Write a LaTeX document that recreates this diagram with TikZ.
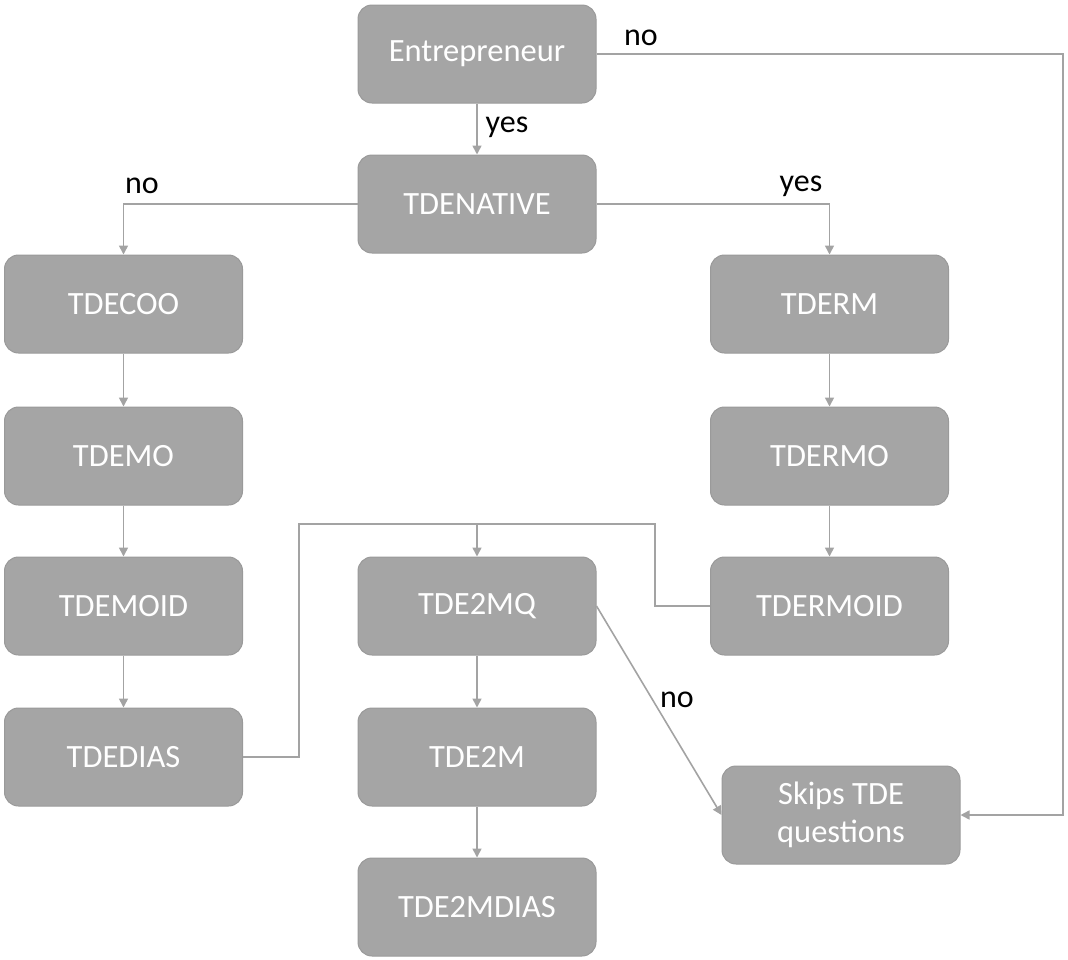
\documentclass[tikz,border=0pt]{standalone}
\usepackage{fontspec}
\setmainfont{Carlito}
\usetikzlibrary{arrows.meta}
\definecolor{boxfill}{HTML}{A5A5A5}
\definecolor{boxline}{HTML}{9A9A9A}
\definecolor{wire}{HTML}{A3A3A3}
\tikzset{
  stepbox/.style={draw=boxline, line width=1pt, fill=boxfill, rounded corners=14pt,
    minimum width=238pt, minimum height=98pt, text=white, align=center,
    font=\fontsize{32.5}{38}\selectfont, inner sep=0pt},
  wirepath/.style={draw=wire, line width=1.6pt},
  flow/.style={wirepath, -{Triangle[length=9pt,width=9pt]}},
  tag/.style={font=\fontsize{32}{36}\selectfont, text=black, inner sep=0pt}
}
\begin{document}
\begin{tikzpicture}[x=1pt, y=-1pt]
\useasboundingbox (0,0) rectangle (1068,959);

% decision boxes
\node[stepbox] (ent) at (477,54) {Entrepreneur};
\node[stepbox] (nat) at (477,204) {TDENATIVE};
\node[stepbox] (coo) at (123.5,304) {TDECOO};
\node[stepbox] (mo) at (123.5,456) {TDEMO};
\node[stepbox] (moid) at (123.5,606) {TDEMOID};
\node[stepbox] (dias) at (123.5,757) {TDEDIAS};
\node[stepbox] (rm) at (829.5,304) {TDERM};
\node[stepbox] (rmo) at (829.5,456) {TDERMO};
\node[stepbox] (rmoid) at (829.5,606) {TDERMOID};
\node[stepbox] (mq) at (477,606) {TDE2MQ};
\node[stepbox] (m) at (477,757) {TDE2M};
\node[stepbox] (mdias) at (477,907) {TDE2MDIAS};
\node[stepbox] (skip) at (841,815) {Skips TDE\\questions};

% routing points
\coordinate (farright) at (1063,54);
\coordinate (merge) at (477,524);

% connectors
\draw[flow] (ent.east) -- (farright) |- (skip.east);
\draw[flow] (ent) -- (nat);
\draw[flow] (nat.west) -| (coo.north);
\draw[flow] (nat.east) -| (rm.north);
\draw[flow] (coo) -- (mo);
\draw[flow] (mo) -- (moid);
\draw[flow] (moid) -- (dias);
\draw[flow] (rm) -- (rmo);
\draw[flow] (rmo) -- (rmoid);
\draw[wirepath] (dias.east) -- (299,757) |- (merge);
\draw[wirepath] (rmoid.west) -- (655,606) |- (merge);
\draw[flow] (merge) -- (mq.north);
\draw[flow] (mq.east) -- (skip.west);
\draw[flow] (mq) -- (m);
\draw[flow] (m) -- (mdias);

% branch labels
\node[tag] (l1) at (641,38) {no};
\node[tag] (l2) at (507,127) {yes};
\node[tag] (l3) at (142,186) {no};
\node[tag] (l4) at (801,186) {yes};
\node[tag] (l5) at (677,700) {no};
\end{tikzpicture}
\end{document}
